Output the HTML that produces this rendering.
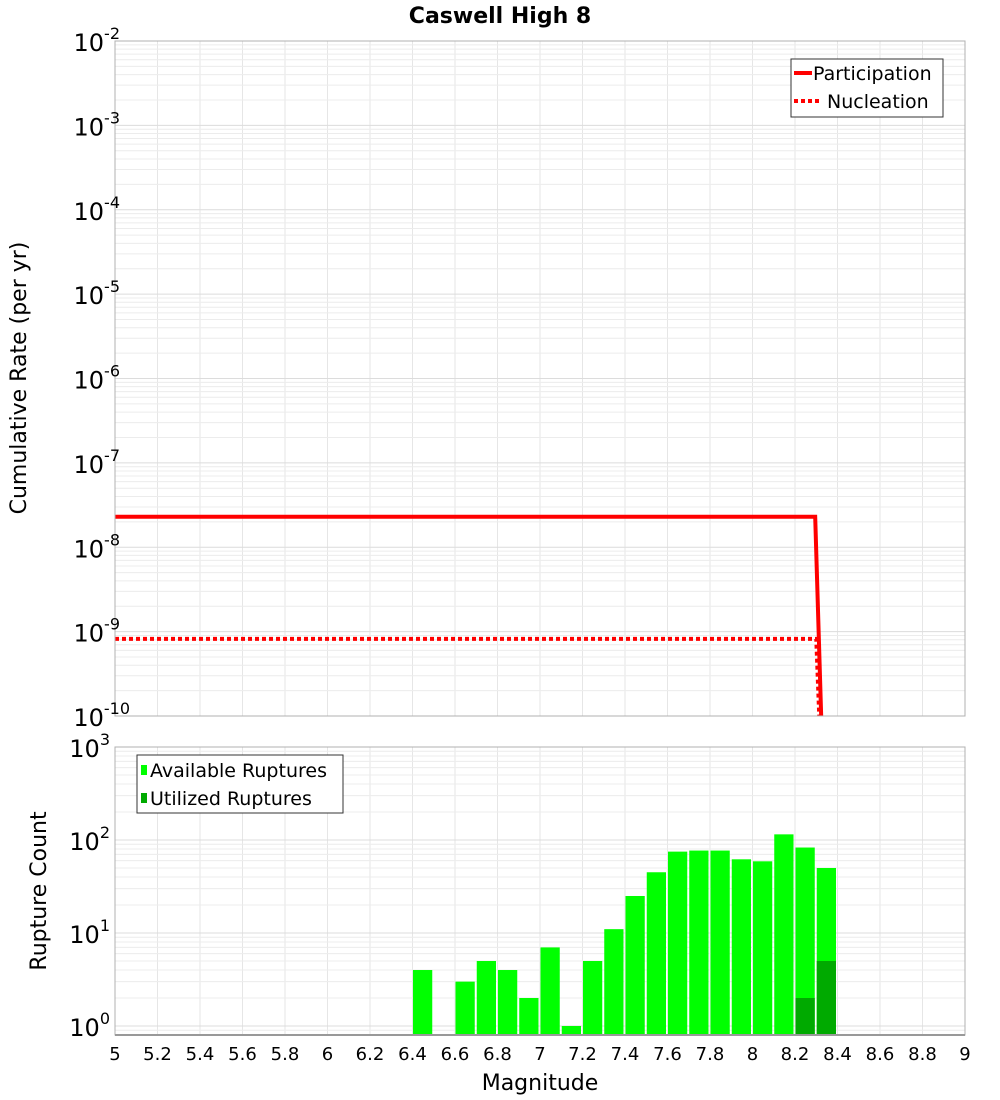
<!DOCTYPE html>
<html><head><meta charset="utf-8"><style>
body{margin:0;background:#fff;}
svg{display:block;font-family:"DejaVu Sans","Liberation Sans",sans-serif;}
</style></head><body>
<svg id="c" width="1000" height="1100" xmlns="http://www.w3.org/2000/svg">
<text x="500" y="23" text-anchor="middle" font-size="22" font-weight="bold">Caswell High 8</text>
<text transform="translate(26,378) rotate(-90)" text-anchor="middle" font-size="22">Cumulative Rate (per yr)</text>
<text transform="translate(46,891) rotate(-90)" text-anchor="middle" font-size="22">Rupture Count</text>
<text x="540" y="1090" text-anchor="middle" font-size="22">Magnitude</text>
<g id="g"></g>
</svg>
<script>
const partMags=[5.0,8.295,8.347];
const partRates=[2.3e-8,2.3e-8,1e-12];
const nuclMags=[5.0,8.30,8.331];
const nuclRates=[8.2e-10,8.2e-10,8e-12];
const binStarts=[6.4,6.6,6.7,6.8,6.9,7.0,7.1,7.2,7.3,7.4,7.5,7.6,7.7,7.8,7.9,8.0,8.1,8.2,8.3];
const availCounts=[4,3,5,4,2,7,1,5,11,25,45,75,77,77,62,59,115,83,50];
const utilStarts=[8.2,8.3];
const utilCounts=[2,5];
const xTicks=[5,5.2,5.4,5.6,5.8,6,6.2,6.4,6.6,6.8,7,7.2,7.4,7.6,7.8,8,8.2,8.4,8.6,8.8,9];
const topExps=[-2,-3,-4,-5,-6,-7,-8,-9,-10];
const botExps=[3,2,1,0];

const NS="http://www.w3.org/2000/svg";
const g=document.getElementById('g');
const L=115,R=965;
const X=m=>L+(m-5)*(R-L)/4;
const T0=41,T1=716;
const YT=v=>T0+(-2-Math.log10(v))*(T1-T0)/8;
const B0=747,B1=1035,BD=93;
const YB=v=>B0+(3-Math.log10(v))*BD;
function el(t,a,p){const e=document.createElementNS(NS,t);for(const k in a)e.setAttribute(k,a[k]);(p||g).appendChild(e);return e;}

// clip paths
const defs=el('defs',{});
const cp=el('clipPath',{id:'ct'},defs);el('rect',{x:L,y:T0,width:R-L,height:T1-T0},cp);
const cb=el('clipPath',{id:'cb'},defs);el('rect',{x:L,y:B0,width:R-L,height:B1-B0},cb);

// grids
function grid(y0,y1,Yf,expLo,expHi,name){
  const gg=el('g',{});
  
  
  xTicks.forEach(t=>el('line',{x1:X(t),x2:X(t),y1:y0,y2:y1,stroke:'#e6e6e6','stroke-width':1},gg));
  for(let e=expLo;e<=expHi;e++)for(let k=1;k<10;k++){const y=Yf(k*Math.pow(10,e));if(y>=y0&&y<=y1)el('line',{x1:L,x2:R,y1:y,y2:y,stroke:k==1?'#dcdcdc':'#ececec','stroke-width':1},gg);}
}
grid(T0,T1,YT,-10,-3,'top-grid');
grid(B0,B1,YB,-1,2,'bottom-grid');

// top lines
function series(ms,rs,name,dash){
  const p=el('polyline',{points:ms.map((m,i)=>X(m)+','+YT(rs[i])).join(' '),fill:'none',stroke:'#ff0000','stroke-width':4,'clip-path':'url(#ct)'});
  if(dash)p.setAttribute('stroke-dasharray','4,3');
  
  
}
series(partMags,partRates,'participation-line',false);
series(nuclMags,nuclRates,'nucleation-line',true);

// bars
function bars(st,cs,color,name){
  st.forEach((m,i)=>{
    const y=YB(cs[i]);
    const r=el('rect',{x:X(m)+0.5,y:y,width:X(m+0.1)-X(m)-2,height:B1-y,fill:color,'clip-path':'url(#cb)'});
    
    
  });
}
bars(binStarts,availCounts,'#00ff00','available-bar');
bars(utilStarts,utilCounts,'#00aa00','utilized-bar');

// frames
el('rect',{x:L,y:T0,width:R-L,height:T1-T0,fill:'none',stroke:'#b0b0b0','stroke-width':1});
el('rect',{x:L,y:B0,width:R-L,height:B1-B0,fill:'none',stroke:'#b0b0b0','stroke-width':1});
el('line',{x1:L,x2:R,y1:B1,y2:B1,stroke:'#999','stroke-width':2});

// y tick labels
function ylab(y,e,name){
  const t=el('text',{x:100,y:y+10,'text-anchor':'end','font-size':24});
  
  
  const a=el('tspan',{},t);a.textContent='10';
  const b=el('tspan',{dy:-12,'font-size':16},t);b.textContent=String(e);
  // shift so base ends at 100
  t.setAttribute('x',100+ (String(e).length*10));
}
topExps.forEach(e=>ylab(YT(Math.pow(10,e)),e,'top-y-tick-label'));
botExps.forEach(e=>ylab(YB(Math.pow(10,e)),e,'bottom-y-tick-label'));

// x tick labels
xTicks.forEach(t=>{
  const tx=el('text',{x:X(t),y:1060,'text-anchor':'middle','font-size':18});
  tx.textContent=String(t);
  
  
});

// legends
const lg=el('g',{});


el('rect',{x:791,y:59,width:152,height:58,fill:'#fff',stroke:'#333','stroke-width':1},lg);
el('line',{x1:794,x2:812,y1:73,y2:73,stroke:'#f00','stroke-width':4},lg);
el('line',{x1:794,x2:821,y1:101,y2:101,stroke:'#f00','stroke-width':4,'stroke-dasharray':'4,3'},lg);
let t1=el('text',{x:813,y:80,'font-size':19},lg);t1.textContent='Participation';
let t2=el('text',{x:827,y:108,'font-size':19},lg);t2.textContent='Nucleation';

const lb=el('g',{});


el('rect',{x:137,y:755,width:206,height:58,fill:'#fff',stroke:'#333','stroke-width':1},lb);
el('rect',{x:141,y:765,width:6,height:10,fill:'#00ff00'},lb);
el('rect',{x:141,y:793,width:6,height:10,fill:'#00aa00'},lb);
let t3=el('text',{x:150,y:777,'font-size':19},lb);t3.textContent='Available Ruptures';
let t4=el('text',{x:150,y:805,'font-size':19},lb);t4.textContent='Utilized Ruptures';
</script>
</body></html>
